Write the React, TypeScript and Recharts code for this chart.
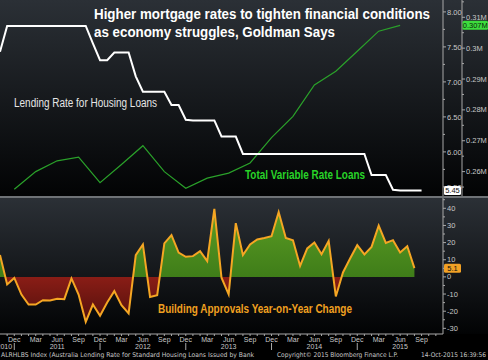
import React from 'react';
import { ComposedChart, Line, Area, XAxis, YAxis } from 'recharts';

// month index 0 = Dec 2010; series start at Oct 2010
const FIRST_MONTH = -2;
const monthNames = ['Jan', 'Feb', 'Mar', 'Apr', 'May', 'Jun', 'Jul', 'Aug', 'Sep', 'Oct', 'Nov', 'Dec'];

// Lending rate for housing loans, %, monthly Oct 2010 .. Sep 2015
const lendingRate = [
  7.43, 7.8, 7.8, 7.8, 7.8, 7.8, 7.8, 7.8, 7.8, 7.8, 7.8, 7.8, 7.8,
  7.55, 7.31, 7.31, 7.42, 7.42, 7.42, 7.08, 6.86, 6.86, 6.86, 6.86, 6.67, 6.67,
  6.46, 6.45, 6.45, 6.45, 6.45, 6.22, 6.22, 6.22,
  5.97, 5.97, 5.97, 5.97, 5.97, 5.97, 5.97, 5.97, 5.97, 5.97, 5.97, 5.97, 5.97, 5.97, 5.97, 5.97, 5.97, 5.97,
  5.67, 5.67, 5.67, 5.46, 5.45, 5.45, 5.45, 5.45,
];

// Total variable rate loans, thousands, quarterly Dec 2010 .. Jun 2015
const variableLoans = [
  254.3, 260.0, 263.5, 264.7, 256.4, 262.3, 268.4, 260.0, 254.6, 257.9,
  259.5, 262.8, 271.0, 277.9, 288.1, 292.5, 299.0, 305.5, 307.4,
];

// Building approvals, year-on-year %, monthly Oct 2010 .. Aug 2015
const buildingApprovals = [
  12.7, -4.4, -0.6, -10.3, -16.1, -16.1, -13.6, -13.8, -12.8, -13.0, -0.9, -10.3,
  -26.2, -16.1, -22.7, -14.9, -8.3, -16.5, -21.3, 12.7, 18.9, -11.7, -10.7, 19.5,
  24.3, 14.2, 11.7, 12.1, 15.0, 9.2, 39.7, -0.5, -10.2, 31.3, 12.7, 18.9,
  21.8, 22.7, 23.7, 37.7, 22.7, 21.4, 6.4, 16.6, 20.1, 13.2, 21.0, -11.4,
  2.6, 10.7, 18.5, 13.1, 17.5, 29.9, 19.8, 21.4, 14.2, 17.9, 5.1,
];

const rateTicks = [5.5, 5.75, 6, 6.25, 6.5, 6.75, 7, 7.25, 7.5, 7.75, 8];
const loanTicks = [255, 260, 265, 270, 275, 280, 285, 290, 295, 300, 305, 310, 315];
const approvalTicks = [-30, -25, -20, -15, -10, -5, 0, 5, 10, 15, 20, 25, 30, 35, 40, 45];
const monthTicks: number[] = [];
for (let i = -1; i <= 59; i++) monthTicks.push(i);

const data = lendingRate.map((rate, k) => {
  const i = FIRST_MONTH + k;
  const loans = i >= 0 && i % 3 === 0 && i / 3 < variableLoans.length ? variableLoans[i / 3] : null;
  const approvals = k < buildingApprovals.length ? buildingApprovals[k] : null;
  return { i, rate, loans, approvals };
});

const PLOT_RIGHT = 443;
const AXIS_COLOR = '#a8a8a8';
const TEXT_COLOR = '#c8c8c8';
const FONT = 'Liberation Sans, Arial, sans-serif';
const NARROW = '"Liberation Sans Narrow", "DejaVu Sans Condensed", "Liberation Sans", sans-serif';

const apMax = Math.max(...buildingApprovals);
const apMin = Math.min(...buildingApprovals);
const zeroOffset = apMax / (apMax - apMin);

const YTick = (props: any) => {
  const { x, y, payload, major, fmt } = props;
  const isMajor = major(payload.value);
  return (
    <g>
      <line x1={x} x2={x + (isMajor ? 3 : 2)} y1={y} y2={y} stroke={AXIS_COLOR} />
      {isMajor && (
        <text x={x + 4} y={y + 2.6} fontSize={7.5} fill={TEXT_COLOR} fontFamily={FONT}>
          {fmt(payload.value)}
        </text>
      )}
    </g>
  );
};

const MonthTick = (props: any) => {
  const { x, y, payload } = props;
  const i = payload.value;
  const m = (((11 + i) % 12) + 12) % 12;
  const year = 2010 + Math.floor((11 + i) / 12);
  return (
    <g fontFamily={FONT} fontSize={7} fill={TEXT_COLOR}>
      <line x1={x} x2={x} y1={y} y2={y + 2} stroke={AXIS_COLOR} />
      {i % 3 === 0 && (
        <text x={x} y={y + 7.5} textAnchor="middle">
          {monthNames[m]}
        </text>
      )}
      {m === 5 && (
        <text x={x} y={y + 14.5} textAnchor="middle">
          {year}
        </text>
      )}
      {m === 11 && <line x1={x} x2={x} y1={y + 9} y2={y + 16} stroke={AXIS_COLOR} />}
      {i === -1 && (
        <text x={x + 5} y={y + 14.5} textAnchor="end">
          {year}
        </text>
      )}
    </g>
  );
};

const endTag = (lastIndex: number, text: string, bg: string, fg: string, boxX: number, w: number) =>
  (props: any) => {
    if (props.index !== lastIndex || props.y == null) return <g />;
    const y = props.y;
    return (
      <g>
        <rect x={boxX} y={y - 4.5} width={w} height={9} fill={bg} rx={1.5} />
        <text x={boxX + w / 2} y={y + 2.6} textAnchor="middle" fontSize={7.5} fill={fg} fontFamily={FONT}>
          {text}
        </text>
      </g>
    );
  };

const lastLoanIndex = data.reduce((acc, d, k) => (d.loans != null ? k : acc), 0);

export default function App() {
  return (
    <div style={{ position: 'relative', width: 488, height: 360, background: '#000', overflow: 'hidden' }}>
      <style>{'body{margin:0;background:#000}'}</style>
      <div style={{ position: 'absolute', left: 0, top: 0, width: 488, height: 196, background: 'linear-gradient(#2b3036, #020304)' }} />
      <div style={{ position: 'absolute', left: 0, top: 196, width: 488, height: 2, background: '#6e7276' }} />
      <div style={{ position: 'absolute', left: 0, top: 198, width: 488, height: 136, background: 'linear-gradient(#2b3036, #020304)' }} />

      <div style={{ position: 'absolute', left: 0, top: 0 }}>
        <ComposedChart width={488} height={196} data={data} margin={{ top: 0, right: 0, bottom: 0, left: 0 }}>
          <XAxis dataKey="i" type="number" domain={[-2, 60]} hide />
          <YAxis
            yAxisId="aRate"
            orientation="right"
            width={19}
            domain={[5.37, 8.17]}
            ticks={rateTicks}
            interval={0}
            tickLine={false}
            tickSize={0}
            tickMargin={0}
            stroke={AXIS_COLOR}
            tick={<YTick major={(v: number) => Math.abs(v * 2 - Math.round(v * 2)) < 1e-6} fmt={(v: number) => v.toFixed(2)} />}
          />
          <YAxis
            yAxisId="bLoans"
            orientation="right"
            width={26}
            domain={[252.1, 315.6]}
            ticks={loanTicks}
            interval={0}
            tickLine={false}
            tickSize={0}
            tickMargin={0}
            stroke={AXIS_COLOR}
            tick={<YTick major={(v: number) => v % 10 === 0} fmt={(v: number) => `${v / 1000}M`} />}
          />
          <Line
            yAxisId="bLoans"
            dataKey="loans"
            type="linear"
            stroke="#2aa12a"
            strokeWidth={1.2}
            dot={false}
            activeDot={false}
            connectNulls
            isAnimationActive={false}
            label={endTag(lastLoanIndex, '0.307M', '#3ddc3d', '#0b2a0b', 462.5, 25.5)}
          />
          <Line
            yAxisId="aRate"
            dataKey="rate"
            type="linear"
            stroke="#ffffff"
            strokeWidth={2}
            dot={false}
            activeDot={false}
            isAnimationActive={false}
            label={endTag(lendingRate.length - 1, '5.45', '#ffffff', '#111111', PLOT_RIGHT + 1, 17)}
          />
        </ComposedChart>
      </div>

      <div style={{ position: 'absolute', left: 0, top: 198 }}>
        <ComposedChart width={488} height={162} data={data} margin={{ top: 0, right: 0, bottom: 0, left: 0 }}>
          <defs>
            <linearGradient id="apSplit" x1="0" y1="0" x2="0" y2="1">
              <stop offset={0} stopColor="#5c9e24" />
              <stop offset={zeroOffset} stopColor="#3f7d19" />
              <stop offset={zeroOffset} stopColor="#8a1d16" />
              <stop offset={1} stopColor="#52100c" />
            </linearGradient>
          </defs>
          <XAxis
            dataKey="i"
            type="number"
            domain={[-2, 60]}
            ticks={monthTicks}
            interval={0}
            height={26}
            tickLine={false}
            tickSize={0}
            tickMargin={0}
            stroke={AXIS_COLOR}
            tick={<MonthTick />}
          />
          <YAxis
            orientation="right"
            width={45}
            domain={[-33.3, 46]}
            ticks={approvalTicks}
            interval={0}
            tickLine={false}
            tickSize={0}
            tickMargin={0}
            stroke={AXIS_COLOR}
            tick={<YTick major={(v: number) => v % 10 === 0} fmt={(v: number) => `${v}`} />}
          />
          <Area
            dataKey="approvals"
            type="linear"
            baseValue={0}
            stroke="#f5a623"
            strokeWidth={2}
            fill="url(#apSplit)"
            fillOpacity={1}
            dot={false}
            activeDot={false}
            isAnimationActive={false}
            label={endTag(buildingApprovals.length - 1, '5.1', '#f2a125', '#111111', PLOT_RIGHT + 1, 17)}
          />
        </ComposedChart>
      </div>

      <svg width={488} height={360} style={{ position: 'absolute', left: 0, top: 0, pointerEvents: 'none' }}>
        <g fontFamily={FONT} fontWeight="bold" fontSize={14} fill="#ffffff">
          <text x={94} y={18.5} textLength={336} lengthAdjust="spacingAndGlyphs">
            Higher mortgage rates to tighten financial conditions
          </text>
          <text x={94} y={36.5} textLength={241} lengthAdjust="spacingAndGlyphs">
            as economy struggles, Goldman Says
          </text>
        </g>
        <text x={14} y={107} fontFamily={FONT} fontSize={12} fill="#e6e6e6" textLength={143} lengthAdjust="spacingAndGlyphs">
          Lending Rate for Housing Loans
        </text>
        <text x={245} y={179} fontFamily={FONT} fontSize={12} fontWeight="bold" fill="#28d428" textLength={120} lengthAdjust="spacingAndGlyphs">
          Total Variable Rate Loans
        </text>
        <text x={158} y={312.5} fontFamily={FONT} fontSize={12} fontWeight="bold" fill="#f0a020" textLength={194} lengthAdjust="spacingAndGlyphs">
          Building Approvals Year-on-Year Change
        </text>
        <g fontFamily={NARROW} fontSize={6.5} fill={TEXT_COLOR}>
          <text x={1} y={357} textLength={253} lengthAdjust="spacingAndGlyphs">
            ALRHLBS Index (Australia Lending Rate for Standard Housing Loans Issued by Bank
          </text>
          <text x={277} y={357} textLength={121} lengthAdjust="spacingAndGlyphs">
            Copyright© 2015 Bloomberg Finance L.P.
          </text>
          <text x={421} y={357} textLength={65} lengthAdjust="spacingAndGlyphs">
            14-Oct-2015 16:39:56
          </text>
        </g>
      </svg>
    </div>
  );
}
